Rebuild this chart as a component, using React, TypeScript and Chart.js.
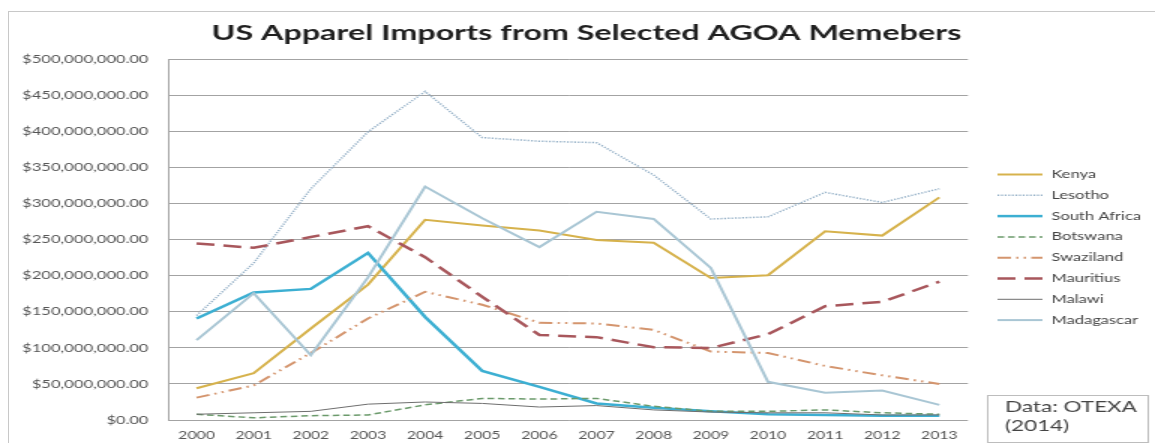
import { useEffect, useRef } from 'react';
import { Chart, registerables } from 'chart.js';

Chart.register(...registerables);

// Reporting years (category axis)
const years = ['2000', '2001', '2002', '2003', '2004', '2005', '2006', '2007', '2008', '2009', '2010', '2011', '2012', '2013'];

// US apparel imports by country, US dollars
const kenya = [44e6, 65e6, 127e6, 188e6, 278e6, 270e6, 263e6, 250e6, 246e6, 197e6, 201e6, 262e6, 256e6, 309e6];
const lesotho = [145e6, 218e6, 321e6, 400e6, 456e6, 392e6, 387e6, 385e6, 340e6, 279e6, 282e6, 316e6, 302e6, 321e6];
const southAfrica = [141e6, 177e6, 182e6, 232e6, 143e6, 68e6, 46e6, 23e6, 17e6, 12e6, 8e6, 7e6, 6e6, 6e6];
const botswana = [8e6, 3e6, 6e6, 7e6, 21e6, 30e6, 29e6, 30e6, 19e6, 12e6, 12e6, 14e6, 10e6, 8e6];
const swaziland = [31e6, 48e6, 93e6, 141e6, 178e6, 160e6, 135e6, 134e6, 125e6, 95e6, 93e6, 75e6, 62e6, 50e6];
const mauritius = [245e6, 239e6, 254e6, 269e6, 226e6, 171e6, 118e6, 115e6, 101e6, 100e6, 119e6, 158e6, 164e6, 192e6];
const malawi = [8e6, 10e6, 12e6, 22e6, 25e6, 23e6, 18e6, 20e6, 14e6, 11e6, 10e6, 10e6, 7e6, 7e6];
const madagascar = [111e6, 176e6, 90e6, 198e6, 324e6, 280e6, 240e6, 289e6, 279e6, 211e6, 53e6, 38e6, 41e6, 21e6];

const seriesNames = ['Kenya', 'Lesotho', 'South Africa', 'Botswana', 'Swaziland', 'Mauritius', 'Malawi', 'Madagascar'];
const seriesValues = [kenya, lesotho, southAfrica, botswana, swaziland, mauritius, malawi, madagascar];
const seriesColors = ['#D6B24C', '#93AFC6', '#3CAFD2', '#6B9A6B', '#D4956E', '#A8575C', '#6E6E6E', '#A9C6D4'];
const seriesWidths = [2, 1.5, 2.5, 1.5, 2, 2.5, 1, 2];
const seriesDashes: number[][] = [[], [1.2, 1.2], [], [4.5, 2.5], [9, 3.5, 1.5, 3.5, 1.5, 3.5], [12, 6], [], []];

const titleText = 'US Apparel Imports from Selected AGOA Memebers';
const sourceLines = ['Data: OTEXA', '(2014)'];

const yMax = 500e6;
const yStep = 50e6;

// The chart is laid out on a narrow canvas and widened horizontally by this factor.
const STRETCH = 1.5;
const CANVAS_W = 764;
const CANVAS_H = 431;

const money = (v: number) =>
  '$' + v.toLocaleString('en-US', { minimumFractionDigits: 2, maximumFractionDigits: 2 });

// Series key on the right plus the source note box
const sideNotes = {
  id: 'sideNotes',
  afterDraw(chart: any) {
    const ctx = chart.ctx as CanvasRenderingContext2D;
    const x0 = 659;
    const x1 = 689;
    const textX = 695;
    const top = 162.5;
    const step = 20.8;
    ctx.save();
    chart.data.datasets.forEach((ds: any, i: number) => {
      const y = top + i * step;
      ctx.beginPath();
      ctx.setLineDash(ds.borderDash || []);
      ctx.lineWidth = ds.borderWidth;
      ctx.strokeStyle = ds.borderColor;
      ctx.moveTo(x0, y);
      ctx.lineTo(x1, y);
      ctx.stroke();
      ctx.setLineDash([]);
      ctx.fillStyle = '#444';
      ctx.font = '11px Lato';
      ctx.textBaseline = 'middle';
      ctx.textAlign = 'left';
      ctx.fillText(ds.label, textX, y);
    });
    ctx.setLineDash([]);
    ctx.lineWidth = 1;
    ctx.strokeStyle = '#bdbdbd';
    ctx.strokeRect(652.5, 383.5, 107, 47);
    ctx.fillStyle = '#444';
    ctx.font = '15px Lato';
    ctx.textBaseline = 'middle';
    ctx.fillText(sourceLines[0], 664, 395);
    ctx.fillText(sourceLines[1], 664, 414);
    ctx.restore();
  },
};

export default function App() {
  const ref = useRef<HTMLCanvasElement>(null);

  useEffect(() => {
    const canvas = ref.current;
    if (!canvas) return;
    const chart = new Chart(canvas, {
      type: 'line',
      data: {
        labels: years,
        datasets: seriesNames.map((name, i) => ({
          label: name,
          data: seriesValues[i],
          borderColor: seriesColors[i],
          backgroundColor: seriesColors[i],
          borderWidth: seriesWidths[i],
          borderDash: seriesDashes[i],
          pointRadius: 0,
          pointHoverRadius: 0,
          tension: 0,
          fill: false,
          order: seriesNames.length - i,
          yAxisID: 'y',
        })),
      },
      options: {
        responsive: false,
        maintainAspectRatio: false,
        animation: false,
        events: [],
        layout: { padding: { left: 6, right: 0, top: 0, bottom: 0 } },
        plugins: {
          legend: { display: false },
          tooltip: { enabled: false },
          title: {
            display: true,
            text: titleText,
            color: '#1f1f1f',
            font: { family: 'Lato', size: 21.5, weight: 'bold' },
            padding: { top: 8, bottom: 14 },
          },
        },
        scales: {
          x: {
            type: 'category',
            offset: true,
            grid: { display: false, drawTicks: false },
            border: { display: false },
            ticks: {
              color: '#555',
              font: { family: 'Lato', size: 10.5 },
              padding: 9,
              maxRotation: 0,
              autoSkip: false,
            },
            afterFit: (s: any) => {
              s.height = 23;
            },
          },
          y: {
            min: 0,
            max: yMax,
            grid: { color: '#a3a3a3', drawTicks: false, lineWidth: 1 },
            border: { display: true, color: '#a3a3a3' },
            ticks: {
              stepSize: yStep,
              padding: 13,
              color: '#555',
              font: { family: 'Lato', size: 11 },
              callback: (v: any) => money(Number(v)),
            },
            afterFit: (s: any) => {
              s.width = 100;
            },
          },
          // empty right-hand axis that only reserves room for the series key
          keyRoom: {
            type: 'linear',
            position: 'right',
            min: 0,
            max: yMax,
            grid: { display: false, drawTicks: false },
            border: { display: false },
            ticks: { display: false },
            afterFit: (s: any) => {
              s.width = 124.7;
            },
          },
        },
      },
      plugins: [sideNotes],
    });
    return () => chart.destroy();
  }, []);

  return (
    <div
      style={{
        position: 'fixed',
        left: 8,
        top: 11,
        width: 1160,
        height: 440,
        border: '1px solid #c8c8c8',
        background: '#fff',
        overflow: 'hidden',
      }}
    >
      <canvas
        ref={ref}
        width={CANVAS_W}
        height={CANVAS_H}
        style={{
          display: 'block',
          width: CANVAS_W,
          height: CANVAS_H,
          transform: `scaleX(${STRETCH})`,
          transformOrigin: '0 0',
        }}
      />
    </div>
  );
}
